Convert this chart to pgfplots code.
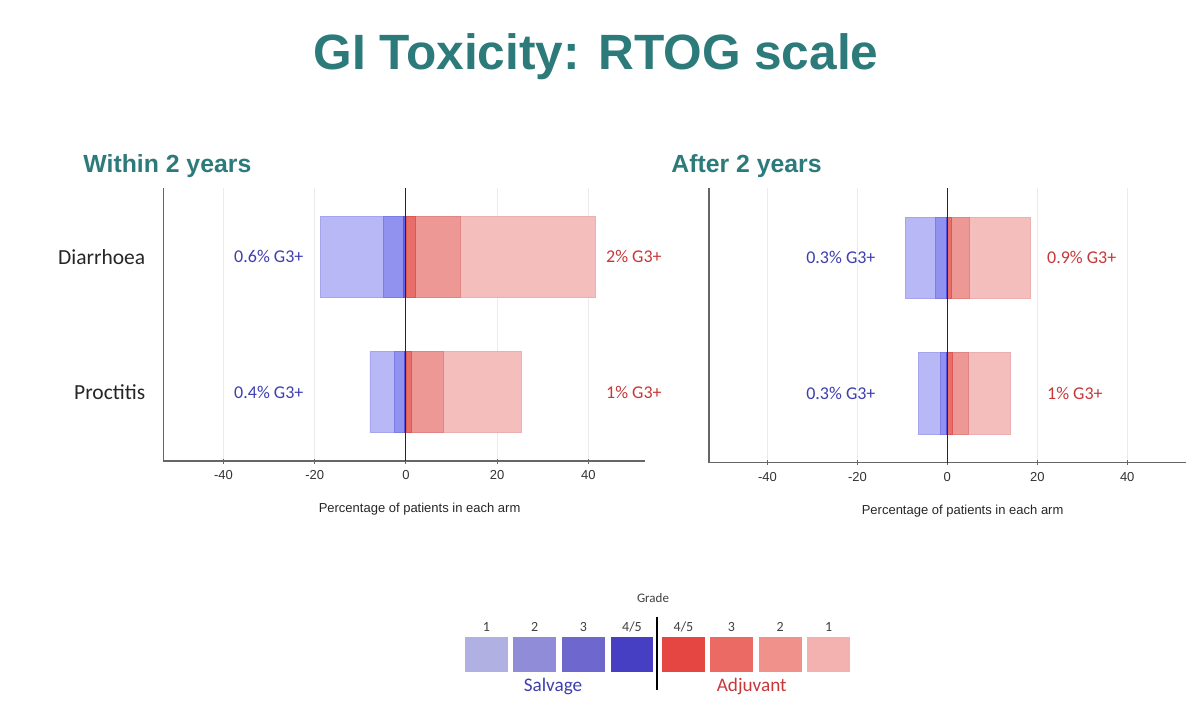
\documentclass[border=0pt]{standalone}
\usepackage{pgfplots}
\pgfplotsset{compat=1.18}
\usepackage{fontspec}
\setmainfont{Carlito}
\newfontfamily\arial{Liberation Sans}
\definecolor{tealT}{RGB}{45,122,123}
\definecolor{bA}{RGB}{184,184,246}
\definecolor{bAd}{RGB}{165,165,238}
\definecolor{bB}{RGB}{145,145,240}
\definecolor{bBd}{RGB}{125,125,230}
\definecolor{bC}{RGB}{100,100,235}
\definecolor{bCd}{RGB}{85,85,222}
\definecolor{rA}{RGB}{244,190,189}
\definecolor{rAd}{RGB}{234,175,174}
\definecolor{rB}{RGB}{238,152,150}
\definecolor{rBd}{RGB}{224,133,131}
\definecolor{rC}{RGB}{232,110,105}
\definecolor{rCd}{RGB}{218,88,85}
\definecolor{txtB}{RGB}{62,62,175}
\definecolor{txtR}{RGB}{200,55,55}
\definecolor{lb1}{RGB}{176,176,226}
\definecolor{lb2}{RGB}{145,140,215}
\definecolor{lb3}{RGB}{110,103,205}
\definecolor{lb4}{RGB}{70,62,195}
\definecolor{lr4}{RGB}{230,70,65}
\definecolor{lr3}{RGB}{235,106,100}
\definecolor{lr2}{RGB}{240,145,140}
\definecolor{lr1}{RGB}{243,178,175}
\tikzset{lab/.style={inner sep=0pt, font=\fontsize{9}{10}\selectfont}}
\pgfplotsset{
  myax/.style={
    scale only axis, anchor=south west,
    ymin=0.49, ymax=2.51,
    xtick={-40,-20,20,40}, extra x ticks={0},
    extra x tick style={xmajorgrids=false},
    xmajorgrids, major grid style={draw=black!8, line width=0.5pt},
    tick align=outside,
    major tick length=2.5pt,
    xtick style={draw=black!60, line width=0.5pt},
    ytick style={draw=none},
    axis lines=left, axis line style={-, draw=black!60, line width=0.75pt},
    tick label style={font=\arial\fontsize{6.5}{7}\selectfont, text=black!80},
    /pgf/number format/assume math mode=true,
    xbar, bar width=0.597, bar shift=0pt,
    clip=false,
    xlabel={Percentage of patients in each arm},
    xlabel style={font=\arial\fontsize{6.5}{7}\selectfont, text=black!85,
      at={(axis description cs:0.532,0)}, anchor=center, yshift=-24pt},
  },
  bA/.style={fill=bA, draw=bAd, line width=0.4pt},
  bB/.style={fill=bB, draw=bBd, line width=0.4pt},
  bC/.style={fill=bC, draw=bCd, line width=0.4pt},
  rA/.style={fill=rA, draw=rAd, line width=0.4pt},
  rB/.style={fill=rB, draw=rBd, line width=0.4pt},
  rC/.style={fill=rC, draw=rCd, line width=0.4pt},
}
\begin{document}
\begin{tikzpicture}
\path[use as bounding box] (0,0) rectangle (600pt,-355.5pt);
\begin{scope}[x=0.5pt,y=-0.5pt]
  \node[anchor=base, font=\arial\bfseries\fontsize{24.8}{26}\selectfont, text=tealT] at (596,70) {GI Toxicity: RTOG scale};
  \node[anchor=base west, inner sep=0pt, font=\arial\bfseries\fontsize{12.4}{13}\selectfont, text=tealT] at (83,173) {Within 2 years};
  \node[anchor=base west, inner sep=0pt, font=\arial\bfseries\fontsize{12.4}{13}\selectfont, text=tealT] at (671,173) {After 2 years};
  % legend
  \node[font=\fontsize{6.5}{7}\selectfont, text=black!75] at (653,598.3) {Grade};
  \foreach \xa/\xb/\c/\t in {465/507.7/lb1/1, 513.3/556/lb2/2, 562.3/604.7/lb3/3, 610.7/653.3/lb4/4\slash 5,
                            662.3/704.7/lr4/4\slash 5, 710.3/752.7/lr3/3, 758.7/801.7/lr2/2, 807.3/850/lr1/1} {
    \fill[\c] (\xa,636.7) rectangle (\xb,672.3);
    \node[font=\fontsize{7}{8}\selectfont, text=black!75] at ({(\xa+\xb)/2},627) {\t};
  }
  \draw[black, line width=1pt] (657.3,616.7) -- (657.3,690);
  \node[font=\fontsize{9.6}{11}\selectfont, text=txtB] at (553,686) {Salvage};
  \node[font=\fontsize{9.6}{11}\selectfont, text=txtR] at (751.7,686) {Adjuvant};
\end{scope}

% Left axis: within 2 years
\begin{axis}[myax, at={(81.65pt,-230.5pt)}, width=240.85pt, height=136.5pt,
  xmin=-53.2, xmax=52.4,
  ytick={1,2}, yticklabels={Proctitis, Diarrhoea},
  yticklabel style={font=\fontsize{10.75}{12}\selectfont, text=black!85, xshift=-3pt},
]
\addplot[bA] coordinates {(-18.8,2) (-7.9,1)};
\addplot[bB] coordinates {(-5.0,2) (-2.6,1)};
\addplot[bC] coordinates {(-0.6,2) (-0.4,1)};
\addplot[rA] coordinates {(41.6,2) (25.2,1)};
\addplot[rB] coordinates {(11.9,2) (8.3,1)};
\addplot[rC] coordinates {(2.0,2) (1.2,1)};
\addplot[xbar=false, sharp plot, black!85, line width=0.5pt] coordinates {(0,0.49) (0,2.51)};
\node[lab, anchor=east, text=txtB] at (axis cs:-22.4,2) {0.6\% G3+};
\node[lab, anchor=east, text=txtB] at (axis cs:-22.4,1) {0.4\% G3+};
\node[lab, anchor=west, text=txtR] at (axis cs:43.8,2) {2\% G3+};
\node[lab, anchor=west, text=txtR] at (axis cs:43.8,1) {1\% G3+};
\end{axis}

% Right axis: after 2 years
\begin{axis}[myax, at={(354.5pt,-231.35pt)}, width=238.35pt, height=137.2pt,
  xmin=-53, xmax=53,
  ytick=\empty,
]
\addplot[bA] coordinates {(-9.4,2) (-6.4,1)};
\addplot[bB] coordinates {(-2.7,2) (-1.5,1)};
\addplot[bC] coordinates {(-0.3,2) (-0.3,1)};
\addplot[rA] coordinates {(18.4,2) (14.1,1)};
\addplot[rB] coordinates {(4.9,2) (4.75,1)};
\addplot[rC] coordinates {(0.9,2) (1.2,1)};
\addplot[xbar=false, sharp plot, black!85, line width=0.5pt] coordinates {(0,0.488) (0,2.51)};
\node[lab, anchor=east, text=txtB] at (axis cs:-15.9,2) {0.3\% G3+};
\node[lab, anchor=east, text=txtB] at (axis cs:-15.9,1) {0.3\% G3+};
\node[lab, anchor=west, text=txtR] at (axis cs:22.1,2) {0.9\% G3+};
\node[lab, anchor=west, text=txtR] at (axis cs:22.1,1) {1\% G3+};
\end{axis}
\end{tikzpicture}
\end{document}
